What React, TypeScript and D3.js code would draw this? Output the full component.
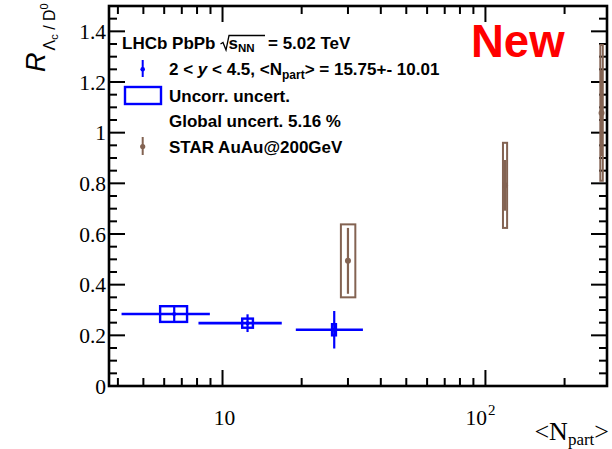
import React from "react";
import * as d3 from "d3";

// LHCb PbPb points
const lhcbNpart = [6.55, 12.45, 26.6];
const lhcbNpartLow = [4.13, 8.1, 19.0];
const lhcbNpartHigh = [8.95, 16.8, 34.2];
const lhcbBoxLow = [5.79, 11.88, 26.1];
const lhcbBoxHigh = [7.33, 13.05, 27.0];
const lhcbRatio = [0.284, 0.248, 0.222];
const lhcbStat = [0.028, 0.035, 0.074];
const lhcbSyst = [0.031, 0.018, 0.022];

// STAR AuAu points
const starNpart = [30.0, 118.7, 276.5];
const starBoxLow = [28.2, 116.6, 273.5];
const starBoxHigh = [32.0, 120.9, 279.5];
const starRatio = [0.494, 0.792, 1.078];
const starStat = [0.13, 0.1, 0.17];
const starSyst = [0.144, 0.168, 0.268];

const yTicks = [0, 0.2, 0.4, 0.6, 0.8, 1, 1.2, 1.4];
const yTickLabels = ["0", "0.2", "0.4", "0.6", "0.8", "1", "1.2", "1.4"];

const W = 612;
const H = 449;
const left = 109;
const right = 607;
const top = 6;
const bottom = 386;

const BLUE = "#0000ff";
const BROWN = "#836352";
const SERIF = "'Liberation Serif', 'Times New Roman', serif";
const SANS = "'Liberation Sans', Arial, Helvetica, sans-serif";

export default function App() {
  const x = d3.scaleLog().domain([3.7, 290]).range([left, right]);
  const y = d3.scaleLinear().domain([0, 1.5]).range([bottom, top]);

  const yMinor = d3.range(0, 1.5001, 0.05).filter(
    (v) => !yTicks.some((t) => Math.abs(t - v) < 1e-6)
  );
  const xMinor: number[] = [];
  for (const dec of [1, 10, 100]) {
    for (let k = 2; k <= 9; k++) {
      const v = k * dec;
      if (v >= 3.7 && v <= 290) xMinor.push(v);
    }
  }
  const xMajor = [10, 100];

  return (
    <svg
      width={W}
      height={H}
      style={{ position: "absolute", left: 0, top: 0, background: "#fff" }}
    >
      <rect width={W} height={H} fill="#fff" />

      {/* y ticks */}
      {yTicks.map((t) => (
        <g key={"ym" + t}>
          <line x1={left} x2={left + 16} y1={y(t)} y2={y(t)} stroke="#000" strokeWidth={2} />
          <line x1={right} x2={right - 16} y1={y(t)} y2={y(t)} stroke="#000" strokeWidth={2} />
        </g>
      ))}
      {yMinor.map((t) => (
        <g key={"yn" + t}>
          <line x1={left} x2={left + 8} y1={y(t)} y2={y(t)} stroke="#000" strokeWidth={2} />
          <line x1={right} x2={right - 8} y1={y(t)} y2={y(t)} stroke="#000" strokeWidth={2} />
        </g>
      ))}
      {yTicks.map((t, i) => (
        <text
          key={"yl" + t}
          x={106}
          y={y(t) + 7.5}
          textAnchor="end"
          fontFamily={SERIF}
          fontSize={21.5}
        >
          {yTickLabels[i]}
        </text>
      ))}

      {/* x ticks */}
      {xMajor.map((t) => (
        <g key={"xm" + t}>
          <line x1={x(t)} x2={x(t)} y1={bottom} y2={bottom - 16} stroke="#000" strokeWidth={2} />
          <line x1={x(t)} x2={x(t)} y1={top} y2={top + 16} stroke="#000" strokeWidth={2} />
        </g>
      ))}
      {xMinor.map((t) => (
        <g key={"xn" + t}>
          <line x1={x(t)} x2={x(t)} y1={bottom} y2={bottom - 8} stroke="#000" strokeWidth={2} />
          <line x1={x(t)} x2={x(t)} y1={top} y2={top + 8} stroke="#000" strokeWidth={2} />
        </g>
      ))}
      <text x={x(10) + 2} y={425} textAnchor="middle" fontFamily={SERIF} fontSize={21.5}>
        10
      </text>
      <text x={x(100) - 5} y={425} textAnchor="middle" fontFamily={SERIF} fontSize={21.5}>
        10
        <tspan dx={1} dy={-10} fontSize={15}>2</tspan>
      </text>

      {/* axis title x */}
      <text x={609} y={440} textAnchor="end" fontFamily={SERIF} fontSize={26}>
        {"<N"}
        <tspan fontSize={17} dy={5}>part</tspan>
        <tspan dy={-5}>{">"}</tspan>
      </text>

      {/* axis title y */}
      <text transform="translate(45,72) rotate(-90)" fontFamily={SANS} fontSize={27}>
        <tspan fontStyle="italic">R</tspan>
        <tspan fontSize={16} dy={10} dx={2}>Λ</tspan>
        <tspan fontSize={11} dy={3}>c</tspan>
        <tspan fontSize={16} dy={-3}>{" / D"}</tspan>
        <tspan fontSize={11} dy={-7}>0</tspan>
      </text>

      {/* LHCb: x-error lines, syst boxes, stat bars, markers */}
      {lhcbNpart.map((n, i) => (
        <g key={"lhcb" + i}>
          <line
            x1={x(lhcbNpartLow[i])}
            x2={x(lhcbNpartHigh[i])}
            y1={y(lhcbRatio[i])}
            y2={y(lhcbRatio[i])}
            stroke={BLUE}
            strokeWidth={2.6}
          />
          <rect
            x={x(lhcbBoxLow[i])}
            y={y(lhcbRatio[i] + lhcbSyst[i])}
            width={x(lhcbBoxHigh[i]) - x(lhcbBoxLow[i])}
            height={y(lhcbRatio[i] - lhcbSyst[i]) - y(lhcbRatio[i] + lhcbSyst[i])}
            fill="none"
            stroke={BLUE}
            strokeWidth={2.4}
          />
          <line
            x1={x(n)}
            x2={x(n)}
            y1={y(lhcbRatio[i] + lhcbStat[i])}
            y2={y(lhcbRatio[i] - lhcbStat[i])}
            stroke={BLUE}
            strokeWidth={2.2}
          />
          <circle cx={x(n)} cy={y(lhcbRatio[i])} r={2} fill={BLUE} />
        </g>
      ))}

      {/* STAR: syst boxes, stat bars, markers */}
      {starNpart.map((n, i) => (
        <g key={"star" + i}>
          <rect
            x={x(starBoxLow[i])}
            y={y(starRatio[i] + starSyst[i])}
            width={x(starBoxHigh[i]) - x(starBoxLow[i])}
            height={y(starRatio[i] - starSyst[i]) - y(starRatio[i] + starSyst[i])}
            fill="none"
            stroke={BROWN}
            strokeWidth={2}
          />
          <line
            x1={x(n)}
            x2={x(n)}
            y1={y(starRatio[i] + starStat[i])}
            y2={y(starRatio[i] - starStat[i])}
            stroke={BROWN}
            strokeWidth={2.2}
          />
          <circle cx={x(n)} cy={y(starRatio[i])} r={3} fill={BROWN} />
        </g>
      ))}

      {/* frame */}
      <rect
        x={left}
        y={top}
        width={right - left}
        height={bottom - top}
        fill="none"
        stroke="#000"
        strokeWidth={2.6}
      />

      {/* legend */}
      <g fontFamily={SANS} fontWeight="bold" fontSize={17}>
        <text x={122} y={48.5}>LHCb PbPb</text>
        <path d="M220.5,44 L223,42.5 L226,50 L229,35.5 L265,35.5" fill="none" stroke="#000" strokeWidth={1.3} />
        <text x={228.5} y={48.5}>
          s<tspan fontSize={11.5} dy={3}>NN</tspan>
        </text>
        <text x={268} y={48.5}>= 5.02 TeV</text>

        <line x1={142.7} x2={142.7} y1={60} y2={77} stroke={BLUE} strokeWidth={2} />
        <circle cx={142.7} cy={69.3} r={2.3} fill={BLUE} />
        <text x={169} y={75}>
          {"2 <  "}
          <tspan fontStyle="italic">y</tspan>
          {" < 4.5, <N"}
          <tspan fontSize={12} dy={4}>part</tspan>
          <tspan dy={-4}>{"> = 15.75+- 10.01"}</tspan>
        </text>

        <rect x={125} y={87} width={36} height={17} fill="none" stroke={BLUE} strokeWidth={2.4} />
        <text x={169} y={101.5}>Uncorr. uncert.</text>

        <text x={169} y={127}>Global uncert. 5.16 %</text>

        <line x1={142.7} x2={142.7} y1={137} y2={155} stroke={BROWN} strokeWidth={2} />
        <circle cx={142.7} cy={146.5} r={2.6} fill={BROWN} />
        <text x={169} y={153}>STAR AuAu@200GeV</text>
      </g>

      <text x={471} y={57} fontFamily={SANS} fontWeight="bold" fontSize={45.5} fill="#ff0000">
        New
      </text>
    </svg>
  );
}
